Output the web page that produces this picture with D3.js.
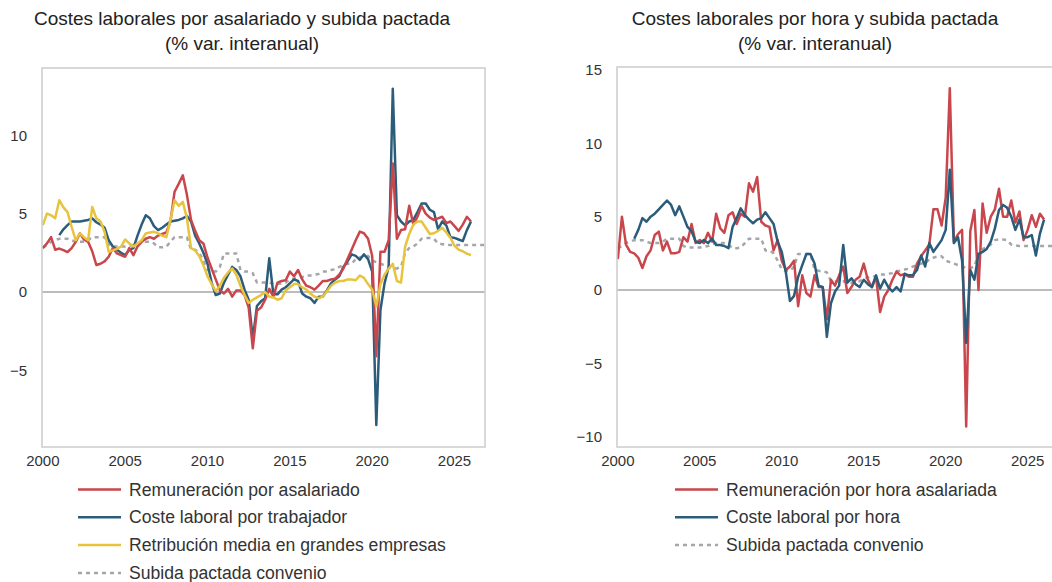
<!DOCTYPE html>
<html>
<head>
<meta charset="utf-8">
<script src="https://cdn.jsdelivr.net/npm/d3@7"></script>
<style>
  body { margin: 0; background: #fff; }
  svg text { font-family: "Liberation Sans", Arial, sans-serif; }
</style>
</head>
<body>
<svg id="chart" width="1052" height="582"></svg>
<script>
// Quarterly series, % var. interanual. Index 0 = first quarter of the start year.

// Left panel: por asalariado (from 2000Q1)
const remAsalariado = [
  2.8, 3.1, 3.5, 2.7,   2.77, 2.67, 2.55, 2.8,   3.2, 3.74, 3.35, 3.2,   2.6, 1.72, 1.8, 1.95,
  2.25, 2.8, 2.46, 2.35, 2.25, 2.8, 2.35, 2.9,   3.2, 3.4, 3.5, 3.4,     3.6, 3.7, 3.8, 4.5,
  6.4, 6.9, 7.45, 6.2,  4.6, 3.9, 3.3, 3.1,     2.2, 1.5, 0.8, 0.1,     -0.1, 0.2, -0.3, 0.1,
  0.1, -0.2, -1.0, -3.6, -1.2, -1.0, -0.5, 0.2, -0.3, 0.6, 0.7, 0.75,   1.3, 1.0, 1.4, 0.8,
  0.4, 0.3, 0.15, 0.4,  0.7, 0.7, 0.8, 0.85,    1.1, 1.5, 2.1, 2.7,     3.3, 3.85, 3.75, 3.4,
  2.3, -4.1, 2.57, 2.57, 3.3, 8.2, 3.4, 3.95,   4.0, 5.5, 4.3, 4.8,     5.5, 5.0, 4.75, 4.6,
  4.7, 4.8, 4.4, 4.5,   4.2, 3.9, 4.3, 4.8,     4.5
];
// from 2001Q1
const costeTrabajador = [
  3.63, 4.0, 4.27, 4.5, 4.5, 4.5, 4.55, 4.6,    4.7, 4.45, 4.3, 4.1,    3.3, 2.9, 2.7, 2.5,
  2.35, 2.7, 2.8, 3.6,  4.3, 4.9, 4.7, 4.2,     3.95, 4.1, 4.3, 4.5,    4.55, 4.6, 4.7, 4.85,
  4.5, 3.6, 3.1, 2.5,   1.8, 0.6, -0.2, -0.1,   0.6, 1.1, 1.6, 1.4,     1.0, 0.15, -0.5, -3.0,
  -0.9, -0.6, -0.4, 2.15, -0.15, -0.15, 0.15, 0.3, 0.55, 0.8, 0.7, -0.1, -0.3, -0.4, -0.7, -0.3,
  -0.3, 0.1, 0.55, 0.8, 1.0, 1.6, 1.95, 2.4,    2.3, 2.05, 2.4, 2.1,    1.3, -8.5, -1.15, 0.55,
  1.6, 12.97, 4.9, 4.5, 4.25, 4.5, 4.6, 5.1,    5.65, 5.65, 5.25, 5.1,  4.0, 4.5, 4.25, 3.5,
  3.45, 3.35, 3.25, 3.95, 4.5
];
// from 2000Q1
const retribGrandes = [
  4.27, 5.0, 4.9, 4.7,  5.86, 5.4, 5.1, 4.16,   3.3, 3.74, 3.5, 3.3,    5.43, 4.7, 4.5, 3.84,
  2.57, 2.65, 2.75, 2.9, 3.35, 3.1, 2.9, 3.1,   3.3, 3.74, 3.8, 3.84,   3.74, 3.6, 3.5, 4.6,
  5.86, 5.5, 5.75, 4.7, 2.8, 2.65, 2.3, 1.7,    1.0, 0.5, 0.05, 0.4,    0.9, 1.25, 1.5, 1.1,
  0.4, -0.2, -0.7, -0.5, -0.35, -0.2, 0.0, -0.3, -0.35, -0.5, -0.4, 0.1, 0.3, 0.5, 0.5, 0.3,
  0.15, -0.1, -0.3, -0.4, -0.3, 0.05, 0.4, 0.6, 0.7, 0.7, 0.8, 0.8,    0.75, 1.05, 0.9, 0.5,
  0.15, -0.93, 0.5, 1.1, 1.5, 1.8, 0.7, 0.6,    2.9, 3.7, 4.3, 4.5,     4.5, 4.1, 3.7, 3.75,
  3.9, 4.1, 3.8, 3.45,  2.95, 2.7, 2.6, 2.45,   2.35
];
// from 2000Q1 (both panels)
const subidaPactada = [
  2.85, 3.0, 3.2, 3.3,  3.4, 3.4, 3.4, 3.3,     3.2, 3.2, 3.2, 3.3,     3.5, 3.5, 3.5, 3.5,
  3.0, 2.9, 2.9, 2.9,   2.9, 2.95, 3.0, 3.1,    3.2, 3.2, 3.2, 3.1,     2.85, 2.85, 2.9, 3.2,
  3.5, 3.5, 3.5, 3.5,   2.7, 2.7, 2.5, 2.0,     1.4, 1.3, 1.3, 1.6,     2.46, 2.46, 2.46, 2.46,
  1.4, 1.3, 1.3, 1.2,   0.6, 0.6, 0.6, 0.6,     0.5, 0.5, 0.55, 0.6,    0.8, 0.85, 0.9, 0.95,
  1.05, 1.05, 1.1, 1.15, 1.3, 1.3, 1.4, 1.45,   1.6, 1.7, 1.8, 1.8,     2.1, 2.2, 2.3, 2.3,
  2.0, 1.9, 1.8, 1.7,   1.6, 1.5, 1.5, 1.6,     2.5, 2.8, 2.9, 3.1,     3.4, 3.45, 3.45, 3.4,
  3.1, 3.05, 3.0, 3.0,  3.0, 3.0, 3.0, 3.0,     3.0, 3.0, 3.0, 3.0,     3.0
];

// Right panel: por hora (from 2000Q1)
const remHora = [
  2.1, 5.0, 3.1, 2.6,   2.5, 2.2, 1.5, 2.3,     2.7, 3.75, 3.98, 2.7,   3.3, 2.5, 2.5, 2.6,
  3.6, 3.3, 4.5, 3.2,   3.4, 3.2, 3.9, 3.3,     5.2, 4.2, 3.9, 5.1,     5.3, 4.5, 5.2, 5.0,
  7.27, 6.7, 7.7, 4.65, 4.4, 4.3, 2.7, 3.4,     2.0, 1.36, 1.6, 2.0,    -1.1, 1.0, -0.2, -0.45,
  1.0, 0.2, 0.2, -2.0,  0.7, 0.3, 1.0, 1.6,     -0.2, 0.2, 0.7, 0.9,    1.8, 0.7, 0.2, 0.9,
  -1.5, -0.45, 0.0, 0.7, 1.25, 1.0, 1.1, 0.9,   0.9, 1.8, 2.3, 2.7,     3.1, 5.5, 5.5, 4.4,
  6.3, 13.75, 3.3, 3.8, 4.1, -9.3, 4.0, 5.45,   0.0, 5.9, 3.9, 5.0,     5.5, 6.9, 5.0, 5.0,
  6.1, 4.6, 5.35, 3.4,  4.1, 5.1, 4.3, 5.2,     4.8
];
// from 2001Q1
const costeHora = [
  3.5, 4.1, 4.9, 4.65,  5.0, 5.2, 5.5, 5.8,     6.1, 5.8, 5.1, 5.7,     5.0, 4.3, 4.0, 3.3,
  3.2, 3.4, 3.2, 3.5,   3.07, 3.07, 3.0, 2.85,  4.3, 4.9, 5.57, 5.1,    4.8, 4.55, 4.8, 4.9,
  5.3, 4.9, 4.5, 3.3,   2.6, 1.2, -0.75, -0.4,  0.9, 1.7, 2.45, 2.45,   1.8, 0.3, 0.2, -3.2,
  -0.9, -0.1, 0.3, 3.07, 0.5, 0.8, 0.4, 0.2,    0.7, 0.4, 0.2, 1.0,     0.1, 0.7, 0.2, -0.1,
  0.2, -0.1, 1.1, 1.0,  1.0, 1.36, 2.35, 1.6,   3.2, 2.6, 3.0, 3.4,     4.1, 8.2, 3.2, 3.6,
  2.0, -3.6, 1.36, 0.7, 2.45, 2.6, 2.8, 3.3,    4.2, 5.45, 5.8, 5.6,    5.0, 4.1, 4.8, 3.6,
  3.6, 3.75, 2.35, 3.85, 4.8
];

const xTicks = [2000, 2005, 2010, 2015, 2020, 2025];

const RED = "#c9474c", BLUE = "#2b5d7b", YELLOW = "#e8c33d", GREY = "#a3a6aa";

const svg = d3.select("#chart");

function toPoints(values, startYear) {
  return values.map((v, i) => ({ t: startYear + i / 4, v: v }));
}

function drawPanel(p) {
  const x = d3.scaleLinear().domain([1999.95, 2026.85]).range([p.left, p.right]);
  const y = d3.scaleLinear().domain(p.yDomain).range([447, p.top]);
  const g = svg.append("g");

  // titles
  g.selectAll(".title").data(p.title).join("text")
    .attr("x", p.titleX).attr("y", (d, i) => 25 + i * 25)
    .attr("text-anchor", "middle").attr("font-size", 19).attr("fill", "#222")
    .text(d => d);

  const clipId = "clip" + p.left;
  g.append("clipPath").attr("id", clipId).append("rect")
    .attr("x", p.left).attr("y", p.top).attr("width", p.right - p.left).attr("height", 447 - p.top);

  // zero line
  g.append("line")
    .attr("x1", p.left).attr("x2", p.right).attr("y1", y(0)).attr("y2", y(0))
    .attr("stroke", "#bcbcbc").attr("stroke-width", 2);

  // y tick labels
  g.selectAll(".yt").data(p.yTicks).join("text")
    .attr("x", p.left - 15).attr("y", d => y(d)).attr("dy", "0.35em")
    .attr("text-anchor", "end").attr("font-size", 15).attr("fill", "#333")
    .text(d => d3.format("")(d));

  // x tick labels
  g.selectAll(".xt").data(xTicks).join("text")
    .attr("x", d => x(d)).attr("y", 466)
    .attr("text-anchor", "middle").attr("font-size", 15).attr("fill", "#333")
    .text(d => d);

  const line = d3.line().x(d => x(d.t)).y(d => y(d.v));
  const lines = g.append("g").attr("clip-path", "url(#" + clipId + ")");
  p.series.forEach(s => {
    lines.append("path")
      .datum(toPoints(s.values, s.start))
      .attr("d", line)
      .attr("fill", "none")
      .attr("stroke", s.color)
      .attr("stroke-width", 2.5)
      .attr("stroke-linejoin", "round")
      .attr("stroke-dasharray", s.dash ? "4,4" : null);
  });

  // frame
  g.append("rect")
    .attr("x", p.left).attr("y", p.top).attr("width", p.right - p.left).attr("height", 447 - p.top)
    .attr("fill", "none").attr("stroke", "#cccccc").attr("stroke-width", 1.5);

  // legend
  const leg = g.selectAll(".leg").data(p.legend).join("g")
    .attr("transform", (d, i) => "translate(" + p.legendX + "," + (489.5 + i * 27.8) + ")");
  leg.append("line")
    .attr("x1", 0).attr("x2", 43).attr("y1", 0).attr("y2", 0)
    .attr("stroke", d => d.color).attr("stroke-width", 2.5)
    .attr("stroke-dasharray", d => d.dash ? "4,4" : null);
  leg.append("text")
    .attr("x", 51).attr("y", 0).attr("dy", "0.35em")
    .attr("font-size", 17.6).attr("fill", "#333")
    .text(d => d.label);
}

const seriesPactada = { values: subidaPactada, start: 2000, color: GREY, dash: true, label: "Subida pactada convenio" };

drawPanel({
  left: 42, right: 485, top: 68, yDomain: [-9.9, 14.3], yTicks: [-5, 0, 5, 10],
  title: ["Costes laborales por asalariado y subida pactada", "(% var. interanual)"], titleX: 242,
  series: [
    seriesPactada,
    { values: costeTrabajador, start: 2001, color: BLUE },
    { values: remAsalariado, start: 2000, color: RED },
    { values: retribGrandes, start: 2000, color: YELLOW }
  ],
  legendX: 78,
  legend: [
    { label: "Remuneración por asalariado", color: RED },
    { label: "Coste laboral por trabajador", color: BLUE },
    { label: "Retribución media en grandes empresas", color: YELLOW },
    seriesPactada
  ]
});

drawPanel({
  left: 617, right: 1058, top: 67, yDomain: [-10.7, 15.2], yTicks: [-10, -5, 0, 5, 10, 15],
  title: ["Costes laborales por hora y subida pactada", "(% var. interanual)"], titleX: 815,
  series: [
    seriesPactada,
    { values: remHora, start: 2000, color: RED },
    { values: costeHora, start: 2001, color: BLUE }
  ],
  legendX: 675,
  legend: [
    { label: "Remuneración por hora asalariada", color: RED },
    { label: "Coste laboral por hora", color: BLUE },
    seriesPactada
  ]
});
</script>
</body>
</html>
